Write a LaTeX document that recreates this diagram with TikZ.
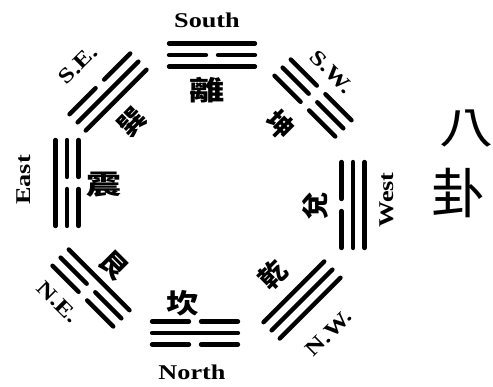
\documentclass[tikz,border=0pt]{standalone}
\usepackage{fontspec}
\setmainfont{Liberation Serif}
\newfontfamily\cjk{Noto Sans CJK TC}
\newcommand\bgline[2]{\ifnum#2=1\relax\draw[yao] (-43,#1)--(43,#1);\else\draw[yao] (-43,#1)--(-6,#1) (6,#1)--(43,#1);\fi}
\newcommand\bgtrigram[6]{\begin{scope}[shift={(#1pt,#2pt)},rotate=#3]\bgline{-11.5}{#4}\bgline{0}{#5}\bgline{11.5}{#6}\end{scope}}
\begin{document}
\begin{tikzpicture}[x=1pt,y=1pt,
  yao/.style={line width=4.3pt,line cap=round},
  lab/.style={font=\fontsize{21}{21}\selectfont\bfseries, xscale=1.25, inner sep=0pt},
  hz/.style={font=\cjk\fontsize{27}{27}\selectfont\bfseries, inner sep=0pt},
  big/.style={font=\cjk\fontsize{54}{54}\selectfont, inner sep=0pt}]
\fill[white] (0,0) rectangle (493,387);
\useasboundingbox (0,0) rectangle (493,387);
% trigrams: centre, rotation, inner / middle / outer line (1 = solid)
\bgtrigram{212}{332}{0}{1}{0}{1}     % South, Li
\bgtrigram{313}{289}{-45}{0}{0}{0}   % S.W., Kun
\bgtrigram{353}{182}{-90}{0}{1}{1}   % West, Dui
\bgtrigram{302}{87}{-135}{1}{1}{1}   % N.W., Qian
\bgtrigram{195}{54}{180}{0}{1}{0}    % North, Kan
\bgtrigram{91}{99}{135}{1}{0}{0}     % N.E., Gen
\bgtrigram{67}{204}{90}{0}{0}{1}     % East, Zhen
\bgtrigram{108}{295}{45}{1}{1}{0}    % S.E., Xun
% direction labels
\node[lab] (south) at (207,367) {South};
\node[lab] (north) at (192,15) {North};
\node[rotate=90,lab] (east) at (24,207) {East};
\node[rotate=90,lab] (west) at (387,187) {West};
\node[rotate=45,lab] (se) at (78,322) {S.E.};
\node[rotate=-45,lab] (sw) at (332,315) {S.W.};
\node[rotate=-45,lab] (ne) at (58,85) {N.E.};
\node[rotate=45,lab] (nw) at (329,54) {N.W.};
% trigram names
\node[hz,xscale=1.3] (li) at (207,297) {離};
\node[hz,rotate=-45] (kun) at (280,262) {坤};
\node[hz,rotate=90] (dui) at (315,181) {兌};
\node[hz,rotate=45] (qian) at (273,112) {乾};
\node[hz,xscale=1.2] (kan) at (183,84) {坎};
\node[hz,rotate=-45] (gen) at (114,122) {艮};
\node[hz,xscale=1.3] (zhen) at (104,202) {震};
\node[hz,rotate=45] (xun) at (132,265) {巽};
% title
\node[big,yscale=0.8] (ba) at (466,258) {八};
\node[big] (gua) at (458,194) {卦};
\end{tikzpicture}
\end{document}
